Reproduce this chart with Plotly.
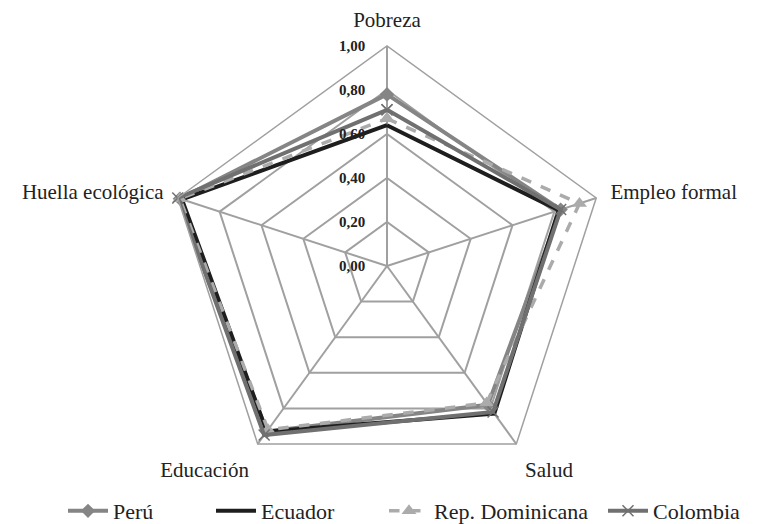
import plotly.graph_objects as go

# ejes del radar (sentido horario desde arriba)
ejes = ["Pobreza", "Empleo formal", "Salud", "Educación", "Huella ecológica"]

peru = [0.78, 0.83, 0.78, 0.93, 0.99]
ecuador = [0.64, 0.82, 0.83, 0.93, 0.98]
rep_dominicana = [0.67, 0.92, 0.77, 0.92, 0.99]
colombia = [0.71, 0.83, 0.82, 0.95, 1.00]

tick_vals = [0, 0.2, 0.4, 0.6, 0.8, 1.0]
tick_text = ["0,00", "0,20", "0,40", "0,60", "0,80", "1,00"]

FONT = "Liberation Serif, Times New Roman, serif"
TXT = "#222222"


def closed(vals):
    return vals + vals[:1]


theta = closed(ejes)

fig = go.Figure()

fig.add_trace(go.Scatterpolar(
    r=closed(peru), theta=theta, name="Perú", mode="lines+markers",
    line=dict(color="#858585", width=4),
    marker=dict(symbol="diamond", size=11, color="#858585"),
    legend="legend",
))
fig.add_trace(go.Scatterpolar(
    r=closed(ecuador), theta=theta, name="Ecuador", mode="lines",
    line=dict(color="#1e1e1e", width=4),
    legend="legend2",
))
fig.add_trace(go.Scatterpolar(
    r=closed(rep_dominicana), theta=theta, name="Rep. Dominicana", mode="lines+markers",
    line=dict(color="#ababab", width=3.5, dash="dash"),
    marker=dict(symbol="triangle-up", size=13, color="#ababab"),
    legend="legend3",
))
fig.add_trace(go.Scatterpolar(
    r=closed(colombia), theta=theta, name="Colombia", mode="lines+markers",
    line=dict(color="#707070", width=4),
    marker=dict(symbol="x-thin-open", size=11, line=dict(color="#707070", width=1.5)),
    legend="legend4",
))


def leg(x):
    return dict(
        orientation="h", x=x, xanchor="left", y=0.0, yanchor="bottom",
        font=dict(family=FONT, size=22, color=TXT),
        itemwidth=40, bgcolor="rgba(0,0,0,0)",
    )


fig.update_layout(
    width=765, height=524,
    margin=dict(l=0, r=0, t=0, b=0),
    paper_bgcolor="white",
    font=dict(family=FONT, size=21, color=TXT),
    polar=dict(
        domain=dict(x=[159 / 765, 599 / 765], y=[46 / 524, 486 / 524]),
        bgcolor="white",
        gridshape="linear",
        angularaxis=dict(
            rotation=90, direction="clockwise",
            showline=True, linecolor="#a0a0a0", linewidth=1.5,
            gridcolor="#a0a0a0", gridwidth=1.5,
            ticks="outside", ticklen=10, tickcolor="rgba(0,0,0,0)",
            tickfont=dict(family=FONT, size=21, color=TXT),
        ),
        radialaxis=dict(
            range=[0, 1], angle=90, tickangle=90, side="counterclockwise",
            tickvals=tick_vals, ticktext=tick_text,
            tickfont=dict(family=FONT, size=15, color=TXT, weight="bold"),
            showline=False, ticks="outside", ticklen=16,
            tickcolor="rgba(0,0,0,0)",
            gridcolor="#a0a0a0", gridwidth=1.5,
        ),
    ),
    legend=leg(55 / 765),
    legend2=leg(203 / 765),
    legend3=leg(376 / 765),
    legend4=leg(595 / 765),
    showlegend=True,
)

fig.write_html("out.html")
